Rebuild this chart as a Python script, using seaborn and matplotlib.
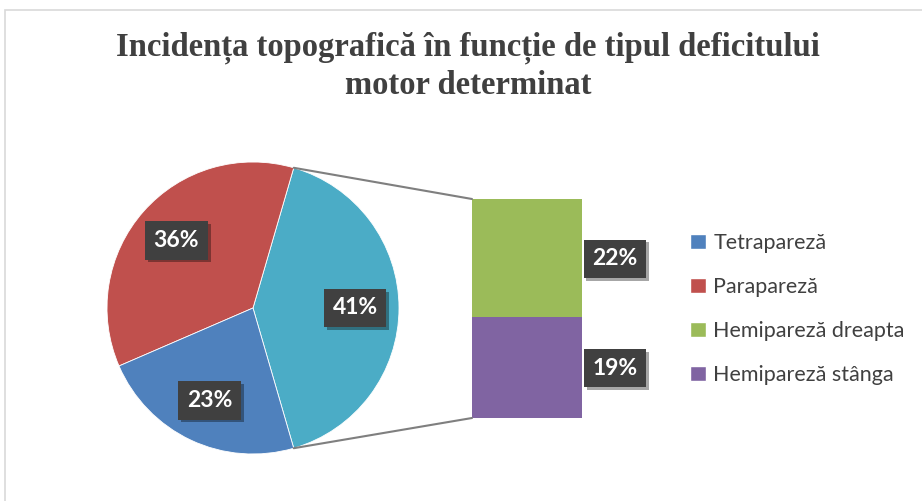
import numpy as np
import matplotlib
matplotlib.use("Agg")
import matplotlib.pyplot as plt
import matplotlib.patheffects as pe
from matplotlib.patches import Patch, Rectangle, ConnectionPatch
import seaborn as sns

# date
pie_labels = ["Hemipareză (total)", "Parapareză", "Tetrapareză"]
pie_values = [41, 36, 23]
bar_labels = ["Hemipareză stângă", "Hemipareză dreapta"]
bar_values = [19, 22]
legend_labels = ["Tetrapareză", "Parapareză", "Hemipareză dreapta", "Hemipareză stânga"]

titlu = "Incidența topografică în funcție de tipul deficitului\nmotor determinat"

c_blue, c_red, c_green, c_purple, c_teal = "#4F81BD", "#C0504D", "#9BBB59", "#8064A2", "#4BACC6"
pie_colors = [c_teal, c_red, c_blue]
bar_colors = [c_purple, c_green]

sns.set_theme(style="white")
plt.rcParams["font.family"] = ["Lato", "DejaVu Sans"]

W, H = 922, 501
fig = plt.figure(figsize=(W / 100, H / 100), dpi=100)

# chenar gri
fig.patches.append(Rectangle((5 / W, -0.1), 1.2, 1 - 10 / H + 0.1, transform=fig.transFigure,
                             fill=False, edgecolor="#D9D9D9", linewidth=1.2))

fig.text(468 / W, 1 - 66 / H, titlu, ha="center", va="center", fontsize=23.5,
         fontweight="bold", family="Liberation Serif", color="#404040", linespacing=1.25)

box = dict(boxstyle="square,pad=0.38", facecolor="#404040", edgecolor="none")
shadow = [pe.withSimplePatchShadow(offset=(2, -2), shadow_rgbFace="black", alpha=0.35)]

# pie
ax_pie = fig.add_axes([107 / W, 1 - 454 / H, 292 / W, 292 / H])
start = -pie_values[0] / sum(pie_values) * 180
wedges, _, autotexts = ax_pie.pie(pie_values, colors=pie_colors, startangle=start,
                                  counterclock=True, autopct="%d%%", pctdistance=0.7,
                                  wedgeprops=dict(edgecolor="white", linewidth=0.6),
                                  textprops=dict(color="white", fontsize=16.5, fontweight="bold"))
for t in autotexts:
    t.set_bbox(box)
    t.get_bbox_patch().set_path_effects(shadow)
ax_pie.set_xlim(-1, 1)
ax_pie.set_ylim(-1, 1)
ax_pie.set_aspect("auto")
ax_pie.axis("off")

# bar
ax_bar = fig.add_axes([472 / W, 1 - 418 / H, 110 / W, 219 / H])
bottom = 0
for val, col in zip(bar_values, bar_colors):
    ax_bar.annotate(f"{val}%", xy=(0.5, bottom + val / 2), xytext=(33, -1),
                    textcoords="offset pixels", ha="center", va="center", color="white",
                    fontsize=16.5, fontweight="bold", bbox=box).get_bbox_patch().set_path_effects(shadow)
    ax_bar.bar(0, val, width=1, bottom=bottom, color=col, edgecolor="none")
    bottom += val
ax_bar.set_xlim(-0.5, 0.5)
ax_bar.set_ylim(0, sum(bar_values))
ax_bar.axis("off")

# linii de legatura
ang = np.deg2rad(pie_values[0] / sum(pie_values) * 180)
for sgn, yb in [(1, sum(bar_values)), (-1, 0)]:
    con = ConnectionPatch(xyA=(np.cos(ang), sgn * np.sin(ang)), coordsA=ax_pie.transData,
                          xyB=(-0.5, yb), coordsB=ax_bar.transData,
                          color="#7F7F7F", linewidth=1.5)
    fig.add_artist(con)

handles = [Patch(facecolor=c) for c in [c_blue, c_red, c_green, c_purple]]
fig.legend(handles, legend_labels, loc="center left", bbox_to_anchor=(671 / W, 1 - 309 / H),
           frameon=False, fontsize=15.5, labelcolor="#404040", handlelength=0.72,
           handleheight=0.72, handletextpad=0.35, labelspacing=1.12)

fig.savefig("out.png", dpi=100, facecolor="white")
